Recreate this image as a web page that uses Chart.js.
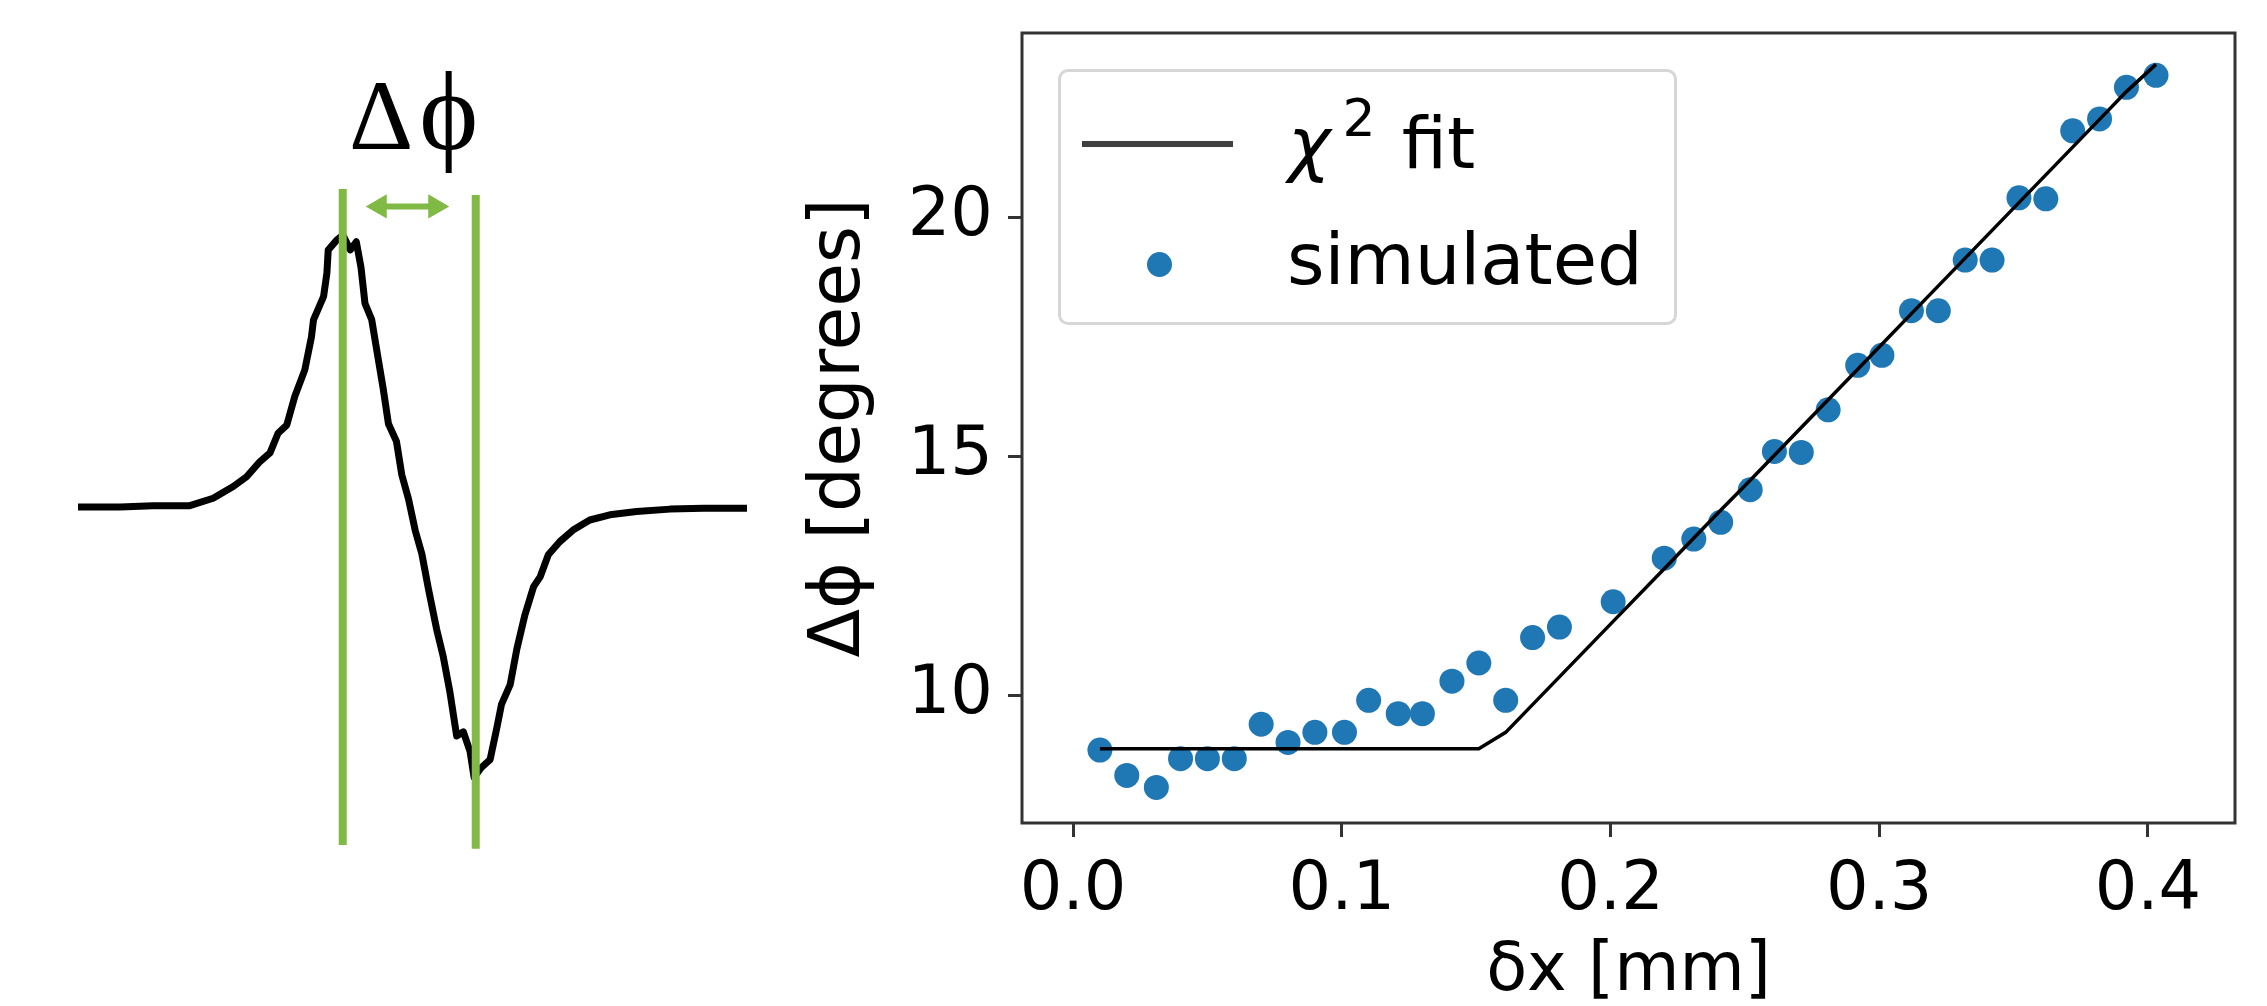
<!DOCTYPE html>
<html>
<head>
<meta charset="utf-8">
<script src="https://cdn.jsdelivr.net/npm/chart.js@4.4.1/dist/chart.umd.min.js"></script>
<style>
  html, body { margin: 0; padding: 0; background: #fff; }
  #page { position: relative; width: 2267px; height: 1006px; overflow: hidden; font-family: "DejaVu Sans", sans-serif; }
  #trace { position: absolute; left: 0; top: 0; }
  #fit { position: absolute; left: 780px; top: 0; }
  #dphi { position: absolute; left: 349px; top: 55px; font: 100px/1 "Liberation Serif", serif; color: #000; white-space: nowrap; }
  #legend { position: absolute; left: 1058px; top: 69px; width: 619px; height: 256px; box-sizing: border-box;
            border: 3px solid #d6d6d6; border-radius: 10px; background: rgba(255,255,255,0.8); }
  #legend .txt { position: absolute; font: 72px/1 "DejaVu Sans", sans-serif; color: #000; white-space: nowrap; }
</style>
</head>
<body>
<div id="page">
  <canvas id="trace" width="780" height="1006"></canvas>
  <canvas id="fit" width="1487" height="1006"></canvas>
  <div id="dphi">Δ<span style="font-size:112px; margin-left:6px;">ϕ</span></div>
  <div id="legend">
    <div style="position:absolute; left:21px; top:69px; width:151px; height:6px; background:#404040;"></div>
    <div class="txt" style="left:227px; top:35px;"><i>χ</i><span style="font-size:52px; position:relative; top:-32px; margin-left:12px;">2</span><span style="margin-left:26px;">fit</span></div>
    <div style="position:absolute; left:86px; top:180px; width:25px; height:25px; border-radius:50%; background:#1f77b4;"></div>
    <div class="txt" style="left:226px; top:151px;">simulated</div>
  </div>
</div>
<script>
    // Left panel: measured trace (arbitrary time / signal units)
    const traceT = [0, 6.3, 11.2, 16.6, 20.2, 23.2, 25.2, 27.2, 28.7, 29.9, 31.2, 32.4, 33.9, 34.9, 35.2, 36.7, 37.2, 37.4,
      38.7, 39.6, 40.7, 41.6, 42.3, 42.9, 43.9, 44.8, 45.6, 46.4, 47.6, 48.4, 49.4, 50.4, 51.4, 52.4, 53.6, 54.6,
      55.6, 56.6, 57.6, 58.6, 59.2, 60.3, 61.6, 62.6, 63.3, 64.6, 65.6, 66.8, 68.1, 69.1, 70.3, 72.0, 74.0, 76.5,
      79.5, 83.5, 88.5, 93.5, 100];
    const traceV = [0, 0, 0.4, 0.4, 3.2, 7.5, 11.1, 16.7, 19.9, 27.1, 30.1, 40.6, 50.4, 62.6, 68.8, 77.3, 85.9, 94.5,
      98.2, 100, 94.5, 97.5, 88.1, 74.8, 68.9, 55.5, 43.8, 30.6, 24.1, 11.8, 2.9, -8.6, -17.3, -30.4, -44.9, -55.1,
      -68.2, -84.2, -82.7, -89.9, -99.4, -95.8, -92.9, -81.3, -72.6, -65.3, -52.2, -39.7, -29.3, -25.6, -17.6, -12.8, -8.5, -4.8,
      -2.9, -1.7, -0.8, -0.5, -0.5];
    // peak / trough markers and the Δφ arrow
    const markT = [39.57, 59.45];
    const markTop = [116.9, 114.7];
    const markBottom = [-124.3, -125.7];
    const arrowT = [45.1, 53.4];
    const arrowV = 110.5;

    // Right panel: Δφ vs δx
    const xSim = [0.010, 0.020, 0.031, 0.040, 0.050, 0.060, 0.070, 0.080, 0.090, 0.101, 0.110, 0.121, 0.130, 0.141,
      0.151, 0.161, 0.171, 0.181, 0.201, 0.220, 0.231, 0.241, 0.252, 0.261, 0.271, 0.281, 0.292, 0.301, 0.312,
      0.322, 0.332, 0.342, 0.352, 0.362, 0.372, 0.382, 0.392, 0.403];
    const ySim = [8.87, 8.34, 8.09, 8.69, 8.69, 8.69, 9.41, 9.03, 9.24, 9.24, 9.91, 9.63, 9.63, 10.31,
      10.69, 9.91, 11.22, 11.44, 11.97, 12.88, 13.28, 13.63, 14.31, 15.11, 15.09, 15.98, 16.91, 17.12, 18.05,
      18.05, 19.11, 19.11, 20.41, 20.39, 21.81, 22.06, 22.72, 22.97];
    const yFit = [8.9, 8.9, 8.9, 8.9, 8.9, 8.9, 8.9, 8.9, 8.9, 8.9, 8.9, 8.9, 8.9, 8.9,
      8.9, 9.24, 9.82, 10.40, 11.56, 12.66, 13.30, 13.88, 14.51, 15.03, 15.61, 16.19, 16.83, 17.35, 17.99,
      18.57, 19.15, 19.73, 20.31, 20.89, 21.47, 22.05, 22.63, 23.2];
    const xTicks = [0.0, 0.1, 0.2, 0.3, 0.4];
    const yTicks = [10, 15, 20];

    const GREEN = '#80b943';
    const FONT = 'DejaVu Sans';

    const pts = (xs, ys) => xs.map((x, i) => ({x, y: ys[i]}));

    // Trace chart
    new Chart(document.getElementById('trace'), {
      type: 'scatter',
      data: {
        datasets: [
          ...markT.map((t, i) => ({
            data: [{x: t, y: markTop[i]}, {x: t, y: markBottom[i]}],
            showLine: true, borderColor: GREEN, borderWidth: 8, pointRadius: 0, borderCapStyle: 'butt', order: 0
          })),
          {
            data: arrowT.map(t => ({x: t, y: arrowV})),
            showLine: true, borderColor: GREEN, borderWidth: 6,
            pointStyle: 'triangle', pointRadius: 14, pointRotation: [-90, 90],
            pointBackgroundColor: GREEN, pointBorderWidth: 0, order: 0
          },
          {
            data: pts(traceT, traceV),
            showLine: true, borderColor: '#000', borderWidth: 7, pointRadius: 0, borderJoinStyle: 'round', order: 1
          }
        ]
      },
      options: {
        responsive: false, animation: false, events: [], devicePixelRatio: 1,
        layout: { padding: 0, autoPadding: false },
        plugins: { legend: { display: false }, tooltip: { enabled: false } },
        elements: { line: { tension: 0 } },
        datasets: { scatter: { clip: false } },
        scales: {
          x: { type: 'linear', display: false, min: -11.66, max: 104.93 },
          y: { type: 'linear', display: false, min: -183.5, max: 186.4 }
        }
      }
    });

    // frame round the plot area
    const framePlugin = {
      id: 'frame',
      afterDatasetsDraw(chart) {
        const {ctx, chartArea: a} = chart;
        ctx.save();
        ctx.strokeStyle = '#333';
        ctx.lineWidth = 3;
        ctx.strokeRect(a.left, a.top, a.right - a.left, a.bottom - a.top);
        ctx.restore();
      }
    };

    const tickFont = { family: FONT, size: 67 };
    new Chart(document.getElementById('fit'), {
      type: 'scatter',
      data: {
        datasets: [
          { label: 'χ² fit', data: pts(xSim, yFit), showLine: true, borderColor: '#000', borderWidth: 3.5, pointRadius: 0, order: 0 },
          { label: 'simulated', data: pts(xSim, ySim), pointRadius: 12.5, backgroundColor: '#1f77b4', borderWidth: 0, order: 1 }
        ]
      },
      options: {
        responsive: false, animation: false, events: [], devicePixelRatio: 1,
        layout: { padding: { top: 33, right: 32, left: 0, bottom: 0 }, autoPadding: false },
        plugins: { legend: { display: false }, tooltip: { enabled: false } },
        scales: {
          x: {
            type: 'linear', min: -0.019, max: 0.4324,
            afterBuildTicks: s => { s.ticks = xTicks.map(v => ({value: v})); },
            afterFit: s => { s.height = 183; s.paddingLeft = 0; s.paddingRight = 0; },
            ticks: { font: tickFont, color: '#000', padding: 14, maxRotation: 0, autoSkip: false, callback: v => v.toFixed(1) },
            grid: { drawOnChartArea: false, drawTicks: true, tickLength: 14, tickWidth: 3, tickColor: '#333' },
            border: { display: false },
            title: { display: true, text: 'δx [mm]', font: { family: FONT, size: 67, lineHeight: 1 }, color: '#000', padding: 0 }
          },
          y: {
            type: 'linear', min: 7.346, max: 23.855,
            afterBuildTicks: s => { s.ticks = yTicks.map(v => ({value: v})); },
            afterFit: s => { s.width = 242; s.paddingTop = 0; s.paddingBottom = 0; },
            ticks: { font: tickFont, color: '#000', padding: 15, callback: v => String(v) },
            grid: { drawOnChartArea: false, drawTicks: true, tickLength: 14, tickWidth: 3, tickColor: '#333' },
            border: { display: false },
            title: { display: true, text: 'Δϕ [degrees]', font: { family: FONT, size: 71, lineHeight: 1 }, color: '#000', padding: { top: 25, bottom: 0 } }
          }
        }
      },
      plugins: [framePlugin]
    });
</script>
</body>
</html>
